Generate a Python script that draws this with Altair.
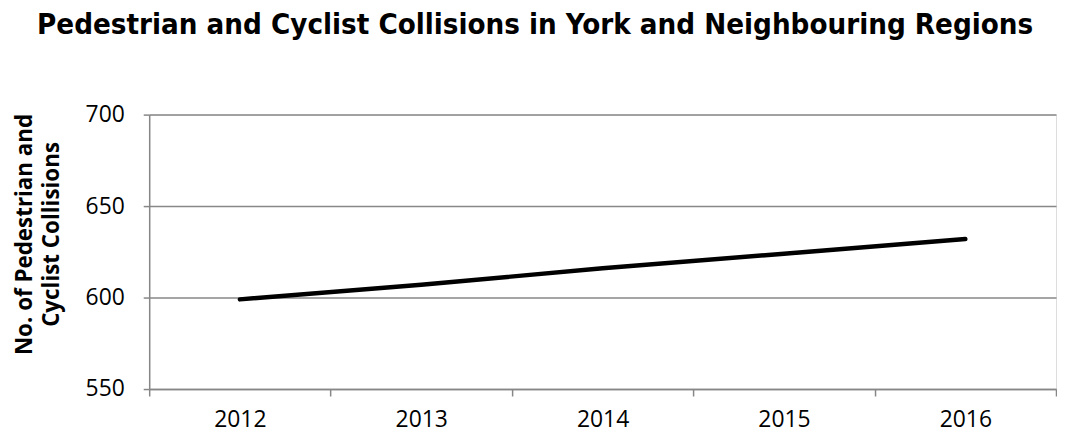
import altair as alt
import pandas as pd

years = ["2012", "2013", "2014", "2015", "2016"]
collisions = [599, 607, 616, 624, 632]

df = pd.DataFrame({"year": years, "value": collisions})

GRAY = "#878787"
FONT = "Open Sans"

chart = alt.Chart(df).mark_line(color="black", strokeWidth=4.5, strokeCap="round").encode(
    x=alt.X(
        "year:O",
        bandPosition=0.5,
        scale=alt.Scale(type="band", paddingInner=0, paddingOuter=0),
        axis=alt.Axis(
            title=None, labelAngle=0, tickBand="extent", grid=False,
            domainColor=GRAY, tickColor=GRAY, domainWidth=1.5, tickWidth=1.5,
            tickSize=7, labelPadding=13, labelFont=FONT, labelFontSize=23,
            labelColor="black",
        ),
    ),
    y=alt.Y(
        "value:Q",
        scale=alt.Scale(domain=[550, 700]),
        axis=alt.Axis(
            values=[550, 600, 650, 700],
            title=["No. of Pedestrian and", "Cyclist Collisions"],
            titleFont=FONT, titleFontSize=22.5, titleFontWeight="bold",
            titleColor="black", titlePadding=22, titleLineHeight=27, titleY=120,
            grid=True, gridColor=GRAY, gridWidth=1.5,
            domainColor=GRAY, tickColor=GRAY, domainWidth=1.5, tickWidth=1.5,
            tickSize=6, labelPadding=19, labelFont=FONT, labelFontSize=23,
            labelColor="black",
        ),
    ),
).properties(
    width=912,
    height=276,
    padding={"left": 5, "top": 0, "right": 0, "bottom": 0},
    title=alt.TitleParams(
        "Pedestrian and Cyclist Collisions in York and Neighbouring Regions",
        font="DejaVu Sans Condensed",
        fontSize=29.4, fontWeight="bold", color="black",
        anchor="middle", frame="bounds", offset=64,
    ),
).configure_view(stroke=None).configure(background="white")

chart.save("out.html", embed_options={"renderer": "svg", "actions": False})
